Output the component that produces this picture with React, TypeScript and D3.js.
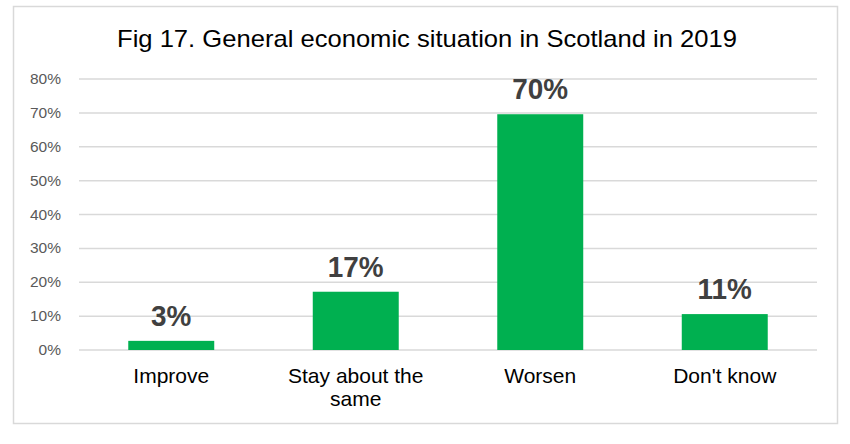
import React from "react";
import * as d3 from "d3";

const categories = ["Improve", "Stay about the same", "Worsen", "Don't know"];
const categoryLines = [["Improve"], ["Stay about the", "same"], ["Worsen"], ["Don't know"]];
const values = [2.7, 17.2, 69.6, 10.6];
const valueLabels = ["3%", "17%", "70%", "11%"];
const yTicks = [0, 10, 20, 30, 40, 50, 60, 70, 80];
const title = "Fig 17. General economic situation in Scotland in 2019";

export default function App() {
  const W = 850, H = 444;
  const left = 79, right = 817, top = 79, bottom = 350;
  const x = d3.scaleBand<string>().domain(categories).range([left, right]).paddingInner(0.534).paddingOuter(0.267);
  const y = d3.scaleLinear().domain([0, 80]).range([bottom, top]);
  const font = "Arial, 'Liberation Sans', sans-serif";
  return (
    <svg width={W} height={H} style={{ position: "absolute", left: 0, top: 0, background: "#fff" }}>
      <rect x={13.5} y={6.5} width={824} height={417} fill="#fff" stroke="#d9d9d9" strokeWidth={1.5} />
      <text x={427} y={47} textAnchor="middle" fontFamily={font} fontSize={24} fill="#000" textLength={620} lengthAdjust="spacingAndGlyphs">{title}</text>
      {yTicks.map((t) => (
        <g key={t}>
          <line x1={left} x2={right} y1={y(t)} y2={y(t)} stroke="#d9d9d9" strokeWidth={1.5} />
          <text x={61} y={y(t) + 5} textAnchor="end" fontFamily={font} fontSize={15.5} fill="#595959">{t}%</text>
        </g>
      ))}
      {categories.map((c, i) => {
        const bx = x(c)!;
        const bw = x.bandwidth();
        const cx = bx + bw / 2;
        return (
          <g key={c}>
            <rect x={bx} y={y(values[i])} width={bw} height={bottom - y(values[i])} fill="#00B050" />
            <text x={cx} y={y(values[i]) - 15} textAnchor="middle" fontFamily={font} fontSize={30} fontWeight="bold" fill="#404040" transform={`translate(${cx},0) scale(0.93,1) translate(${-cx},0)`}>{valueLabels[i]}</text>
            {categoryLines[i].map((ln, j) => (
              <text key={j} x={cx} y={383 + j * 23} textAnchor="middle" fontFamily={font} fontSize={21} fill="#000">{ln}</text>
            ))}
          </g>
        );
      })}
    </svg>
  );
}
